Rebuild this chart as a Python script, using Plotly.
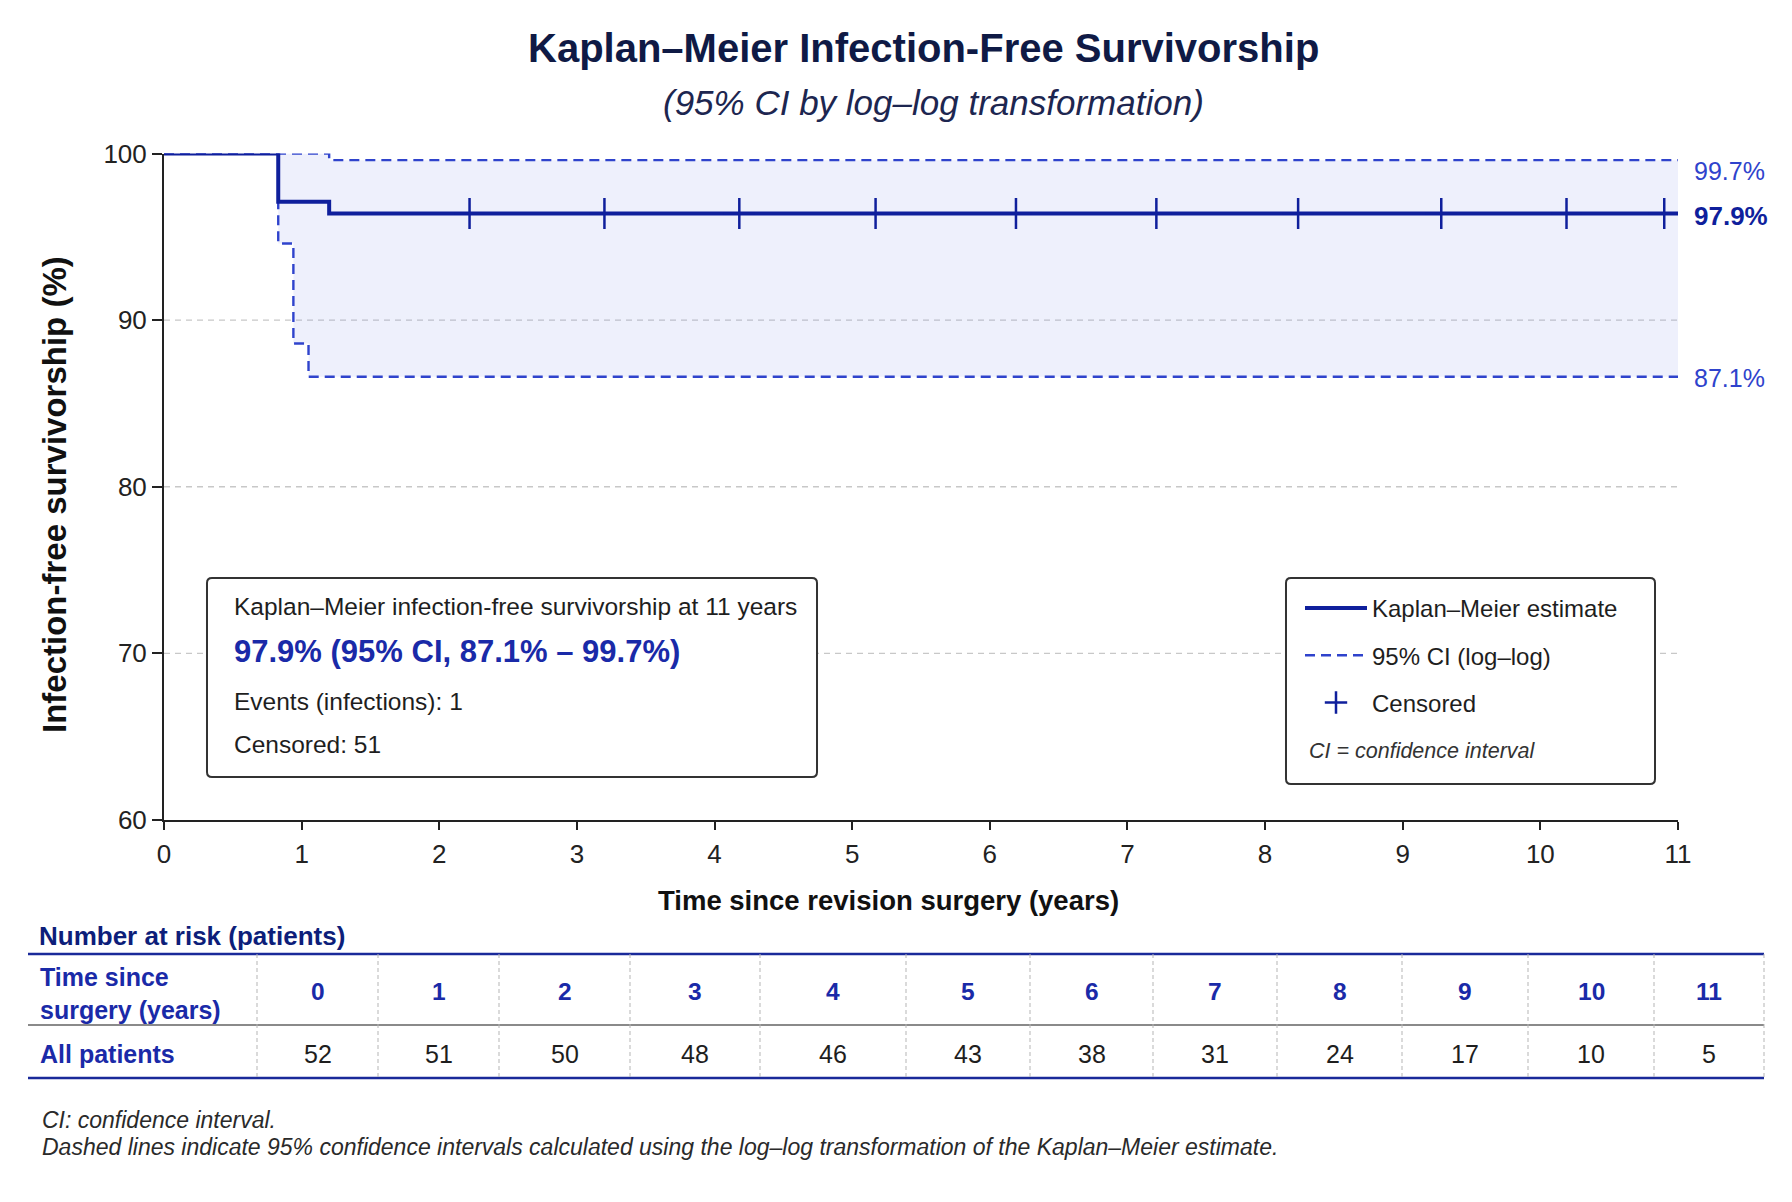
import plotly.graph_objects as go

W, H = 1792, 1202

# ---------------- data ----------------
km_time = [0, 0.83, 1.2, 11]
km_surv = [100, 97.1, 96.4, 96.4]

ci_time = [0, 0.83, 0.94, 1.05, 1.2, 11]
ci_lower = [100, 94.6, 88.6, 86.6, 86.6, 86.6]
ci_upper = [100, 100, 100, 100, 99.6, 99.6]

censor_time = [2.22, 3.2, 4.18, 5.17, 6.19, 7.21, 8.24, 9.28, 10.19, 10.9]
censor_surv = [96.4, 96.4, 96.4, 96.4, 96.4, 96.4, 96.4, 96.4, 96.4, 96.4]

x_ticks = [0, 1, 2, 3, 4, 5, 6, 7, 8, 9, 10, 11]
y_ticks = [60, 70, 80, 90, 100]
y_grid = [70, 80, 90]

risk_years = [0, 1, 2, 3, 4, 5, 6, 7, 8, 9, 10, 11]
n_at_risk = [52, 51, 50, 48, 46, 43, 38, 31, 24, 17, 10, 5]

km_at_11 = 97.9
ci_low_at_11 = 87.1
ci_high_at_11 = 99.7
n_events = 1
n_censored = 51

# ---------------- styles / layout helpers ----------------
FONT = "Liberation Sans, Arial, Helvetica, sans-serif"
NAVY = "#0f1f9c"
CI_BLUE = "#2f43cc"
TEXT_BLUE = "#1a2aa8"
DARK = "#1e1e1e"
TITLE_NAVY = "#0f1a45"


def px(x):
    return x / W


def py(y):
    return 1 - y / H


def rounded_rect(x0, y0, x1, y1, r):
    pts = [
        ("M", [(x0 + r, y0)]),
        ("L", [(x1 - r, y0)]),
        ("Q", [(x1, y0), (x1, y0 + r)]),
        ("L", [(x1, y1 - r)]),
        ("Q", [(x1, y1), (x1 - r, y1)]),
        ("L", [(x0 + r, y1)]),
        ("Q", [(x0, y1), (x0, y1 - r)]),
        ("L", [(x0, y0 + r)]),
        ("Q", [(x0, y0), (x0 + r, y0)]),
    ]
    s = ""
    for cmd, ps in pts:
        s += cmd + " " + " ".join(f"{px(a):.5f},{py(b):.5f}" for a, b in ps) + " "
    return s + "Z"


def label(x, y, text, size, color, xanchor="left", **kw):
    return dict(x=px(x), y=py(y), xref="paper", yref="paper", text=text,
                showarrow=False, xanchor=xanchor, yanchor="middle",
                font=dict(size=size, color=color), **kw)


fig = go.Figure()

# CI band
fig.add_trace(go.Scatter(
    x=ci_time, y=ci_upper, mode="lines", line_shape="hv",
    line=dict(color=CI_BLUE, width=2.4, dash="10px,6px"),
    name="95% CI (log–log)", legendgroup="ci", legendrank=2,
    hoverinfo="skip"))
fig.add_trace(go.Scatter(
    x=ci_time, y=ci_lower, mode="lines", line_shape="hv",
    line=dict(color=CI_BLUE, width=2.4, dash="10px,6px"),
    fill="tonexty", fillcolor="rgba(120,140,230,0.13)",
    name="95% CI lower", legendgroup="ci", showlegend=False,
    hoverinfo="skip"))
# KM estimate
fig.add_trace(go.Scatter(
    x=km_time, y=km_surv, mode="lines", line_shape="hv",
    line=dict(color=NAVY, width=4),
    name="Kaplan–Meier estimate", legendgroup="km", legendrank=1))
# censored marks
fig.add_trace(go.Scatter(
    x=censor_time, y=censor_surv, mode="markers",
    marker=dict(symbol="cross-thin", size=22, line=dict(color=NAVY, width=2.5)),
    name="Censored", legendgroup="cens", legendrank=3))

shapes = []
annotations = []

# grid lines
for g in y_grid:
    shapes.append(dict(type="line", xref="x", yref="y", x0=x_ticks[0], x1=x_ticks[-1],
                       y0=g, y1=g, layer="below",
                       line=dict(color="#c8c8c8", width=1.3, dash="6px,5px")))

# title & subtitle
annotations.append(label(923, 48, "<b>Kaplan–Meier Infection-Free Survivorship</b>",
                         40, TITLE_NAVY, xanchor="center"))
annotations.append(label(934, 102, "<i>(95% CI by log–log transformation)</i>",
                         35, "#1d2650", xanchor="center"))

# axis titles
annotations.append(label(888, 900, "<b>Time since revision surgery (years)</b>",
                         27.5, "#111", xanchor="center"))
annotations.append(label(54, 495, "<b>Infection-free survivorship (%)</b>",
                         33, "#111", xanchor="center", textangle=-90))

# right-side end labels
annotations.append(label(1692, 171, f"{ci_high_at_11:.1f}%", 25, CI_BLUE))
annotations.append(label(1692, 216, f"<b>{km_at_11:.1f}%</b>", 26, NAVY))
annotations.append(label(1692, 378, f"{ci_low_at_11:.1f}%", 25, CI_BLUE))

# summary box
shapes.append(dict(type="path", xref="paper", yref="paper", layer="above",
                   path=rounded_rect(207, 578, 817, 777, 5),
                   fillcolor="white", line=dict(color="#333", width=2)))
annotations.append(label(232, 606, "Kaplan–Meier infection-free survivorship at 11 years",
                         24.5, DARK))
annotations.append(label(232, 651,
                         f"<b>{km_at_11:.1f}% (95% CI, {ci_low_at_11:.1f}% – {ci_high_at_11:.1f}%)</b>",
                         31, TEXT_BLUE))
annotations.append(label(232, 701, f"Events (infections): {n_events}", 24.5, DARK))
annotations.append(label(232, 744, f"Censored: {n_censored}", 24.5, DARK))

# legend box
shapes.append(dict(type="path", xref="paper", yref="paper", layer="above",
                   path=rounded_rect(1286, 578, 1655, 784, 5),
                   fillcolor="white", line=dict(color="#333", width=2)))
annotations.append(label(1307, 751, "<i>CI = confidence interval</i>", 21.5, "#333"))

# ---------------- number-at-risk table ----------------
col_edges = [257, 378, 499, 630, 760, 906, 1030, 1153, 1277, 1402, 1528, 1654, 1764]
tbl_left, tbl_right = 28, 1764
tbl_top, tbl_mid, tbl_bot = 954, 1025, 1078
hdr_y, row_y = 991, 1054

annotations.append(label(37, 936, "<b>Number at risk (patients)</b>", 26, "#0d1e7a"))
shapes.append(dict(type="line", xref="paper", yref="paper", x0=px(tbl_left), x1=px(tbl_right),
                   y0=py(tbl_top), y1=py(tbl_top), line=dict(color="#1a2a9a", width=2.5)))
shapes.append(dict(type="line", xref="paper", yref="paper", x0=px(tbl_left), x1=px(tbl_right),
                   y0=py(tbl_mid), y1=py(tbl_mid), line=dict(color="#8a8a8a", width=2)))
shapes.append(dict(type="line", xref="paper", yref="paper", x0=px(tbl_left), x1=px(tbl_right),
                   y0=py(tbl_bot), y1=py(tbl_bot), line=dict(color="#1a2a9a", width=2.5)))
for e in col_edges:
    shapes.append(dict(type="line", xref="paper", yref="paper", x0=px(e), x1=px(e),
                       y0=py(tbl_top), y1=py(tbl_bot),
                       line=dict(color="#b5b5b5", width=1, dash="4px,3px")))

annotations.append(label(38, hdr_y + 2, "<b>Time since<br>surgery (years)</b>", 25, TEXT_BLUE,
                         align="left"))
annotations.append(label(38, row_y, "<b>All patients</b>", 25, TEXT_BLUE))
for i, (yr, n) in enumerate(zip(risk_years, n_at_risk)):
    cx = (col_edges[i] + col_edges[i + 1]) / 2
    annotations.append(label(cx, hdr_y, f"<b>{yr}</b>", 24.5, TEXT_BLUE, xanchor="center"))
    annotations.append(label(cx, row_y, f"{n}", 25, DARK, xanchor="center"))

# footnotes
annotations.append(label(40, 1120, "<i>CI: confidence interval.</i>", 23, "#2a2a2a"))
annotations.append(label(40, 1147,
                         "<i>Dashed lines indicate 95% confidence intervals calculated using the "
                         "log–log transformation of the Kaplan–Meier estimate.</i>",
                         23, "#2a2a2a"))

fig.update_layout(
    width=W, height=H,
    margin=dict(l=0, r=0, t=0, b=0, pad=0, autoexpand=False),
    paper_bgcolor="white", plot_bgcolor="white",
    font=dict(family=FONT, color=DARK),
    showlegend=True,
    legend=dict(x=px(1300), y=py(586), xanchor="left", yanchor="top",
                bgcolor="rgba(0,0,0,0)", borderwidth=0,
                font=dict(size=24, color=DARK), traceorder="grouped",
                tracegroupgap=13, itemwidth=62),
    xaxis=dict(domain=[px(164), px(1678)], range=[0, 11], tickvals=x_ticks,
               showline=True, linecolor="#222", linewidth=2,
               ticks="outside", ticklen=8, tickwidth=2, tickcolor="#222",
               showgrid=False, zeroline=False, ticklabelstandoff=2,
               tickfont=dict(size=26, color="#222")),
    yaxis=dict(domain=[py(820), py(153.5)], range=[60, 100], tickvals=y_ticks,
               showline=True, linecolor="#222", linewidth=2,
               ticks="outside", ticklen=10, tickwidth=2, tickcolor="#222",
               showgrid=False, zeroline=False,
               tickfont=dict(size=26, color="#222")),
    shapes=shapes,
    annotations=annotations,
)

fig.write_html("out.html")
